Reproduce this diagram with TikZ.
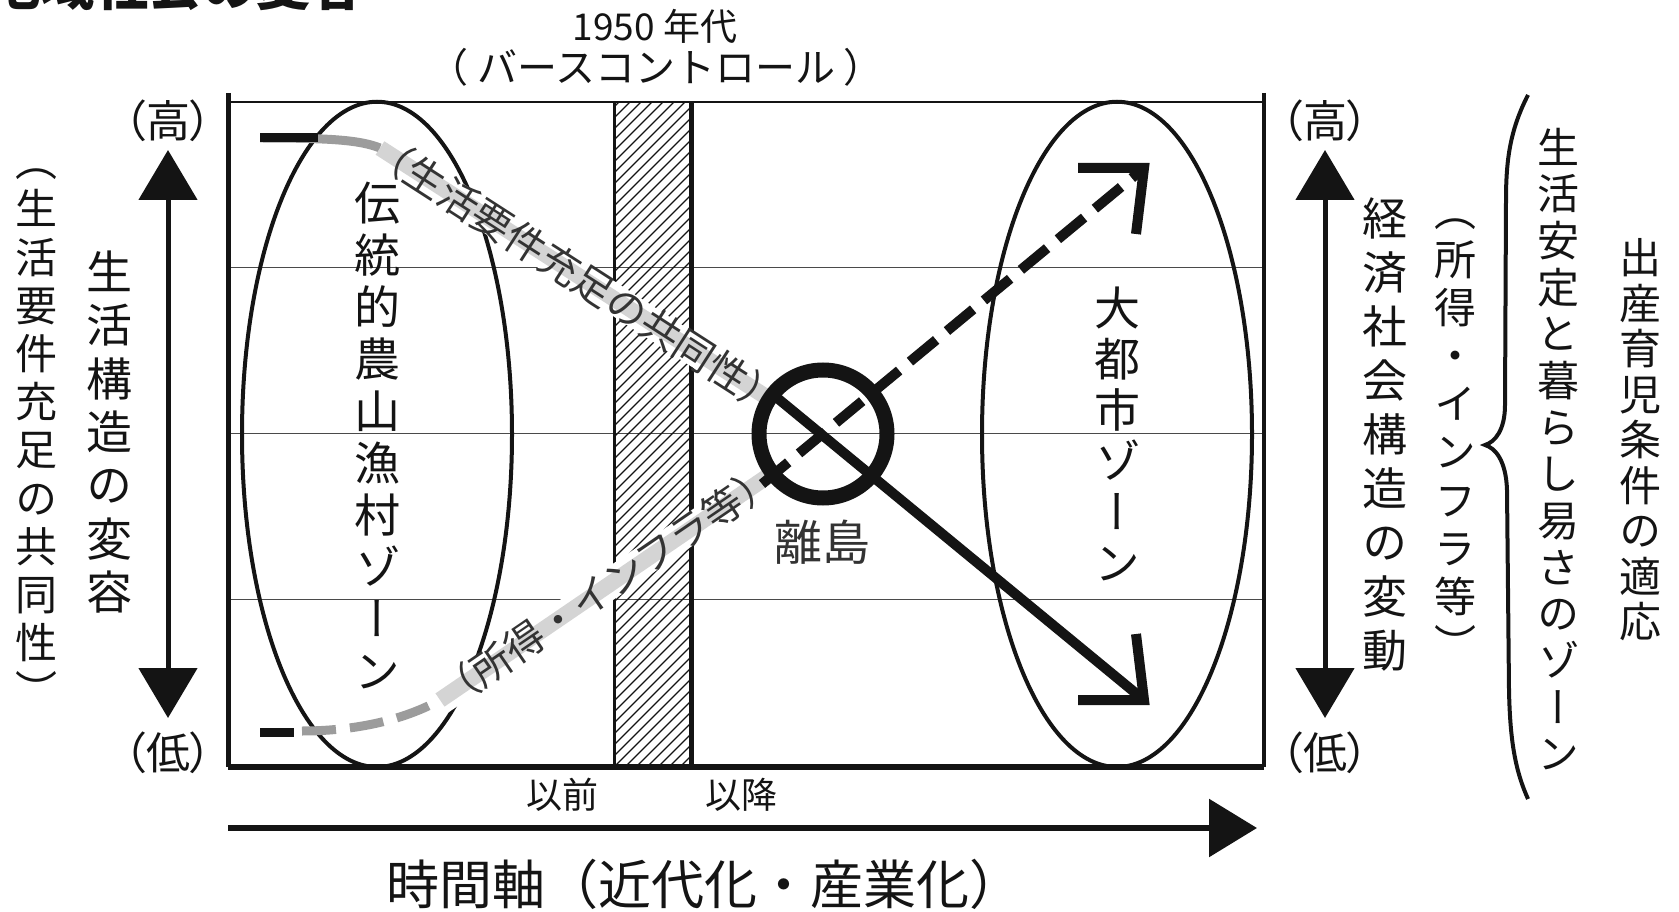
\documentclass[tikz,border=0pt]{standalone}
\usepackage{fontspec}
\setmainfont{Noto Sans CJK JP}
\newfontfamily\tatefont[RawFeature=+vert]{Noto Sans CJK JP}
\newfontfamily\paltfont[RawFeature=+palt]{Noto Sans CJK JP}
\usepackage{tikz}
\usetikzlibrary{arrows.meta}
\definecolor{ink}{HTML}{141414}
\definecolor{grid}{HTML}{4A4A4A}
\definecolor{band}{HTML}{D4D4D4}
\definecolor{trail}{HTML}{9C9C9C}
\definecolor{soft}{HTML}{333333}
\tikzset{
  frame/.style={draw=ink, line width=2pt},
  gridline/.style={draw=grid, line width=1.4pt},
  zone/.style={draw=ink, line width=4pt},
  hatchline/.style={draw=ink, line width=1.2pt},
  trail/.style={draw=trail, line width=9pt},
  traildash/.style={draw=trail, line width=9pt, dash pattern=on 34pt off 14pt},
  stub/.style={draw=ink, line width=9pt},
  bandhalo/.style={draw=white, line width=30pt},
  bandfill/.style={draw=band, line width=16pt},
  mainline/.style={draw=ink, line width=10pt},
  dashline/.style={draw=ink, line width=10pt, dash pattern=on 34pt off 14pt},
  tipline/.style={draw=ink, line width=10pt, miter limit=10},
  ringline/.style={draw=ink, line width=15pt},
  axisarrow/.style={draw=ink, line width=5pt,
    {Triangle[length=50pt,width=58pt]}-{Triangle[length=50pt,width=58pt]}},
  timearrow/.style={draw=ink, line width=6pt, -{Triangle[length=48pt,width=57pt]}},
  lbl/.style={text=ink, inner sep=0pt},
  tate/.style={text=ink, inner sep=0pt, align=center},
  bandlbl/.style={text=soft, inner sep=0pt, sloped, font=\fontsize{40}{40}\selectfont}
}
% one character per line, for the upright columns
\makeatletter
\newcommand\tate[1]{\tate@step#1\@nil}
\def\tate@step#1#2\@nil{#1\ifx\relax#2\relax\expandafter\@gobble\else\expandafter\@firstofone\fi{\\\tate@step#2\@nil}}
\makeatother
\newcommand\tsize[2]{\tatefont\fontsize{#1}{#2}\selectfont}

\begin{document}
\begin{tikzpicture}[x=1pt,y=-1pt]
  \useasboundingbox (0,0) rectangle (1679,912);

  % frame of the chart
  \coordinate (TL) at (228,101.7);
  \coordinate (TR) at (1264,101.7);
  \coordinate (BL) at (228,767);
  \coordinate (BR) at (1264,767);
  \foreach \y in {267.7,433.7,599.7}
    \draw[gridline] (228,\y) -- (1264,\y);
  \draw[frame] (TL) -- (TR);
  \draw[frame, line width=5pt] (228,93) -- (BL);
  \draw[frame, line width=3.5pt] (1264,93) -- (BR);
  \draw[frame, line width=6pt] (BL) -- (BR);

  % 1950s bar
  \begin{scope}
    \clip (614,101.7) rectangle (691,767);
    \foreach \k in {-62,...,8}
      \draw[hatchline] (614+\k*11,767) -- ++(700,-700);
  \end{scope}
  \draw[frame, line width=3pt] (614,101.7) -- (614,767);
  \draw[frame, line width=5pt] (691,101.7) -- (691,767);

  % zones
  \draw[zone] (377,434.35) ellipse [x radius=135, y radius=332.6];
  \draw[zone] (1117,434.35) ellipse [x radius=135, y radius=332.6];
  \node[tate, font=\tsize{46}{52}] (rural) at (377,435) {\tate{伝統的農山漁村ゾーン}};
  \node[tate, font=\tsize{46}{51}] (city) at (1117,434) {\tate{大都市ゾーン}};

  % upper route
  \coordinate (u0) at (260,138);
  \coordinate (ua) at (380,148);
  \coordinate (ub) at (774,402);
  \draw[bandhalo] (ua) -- (ub);
  \draw[trail] (u0) .. controls (330,138) and (360,140) .. (ua);
  \draw[stub] (u0) -- (318,138);
  \draw[bandfill] (ua) -- (ub);
  \path (ua) -- node[bandlbl] (life) {（生活要件充足の共同性）} (ub);

  % lower route
  \coordinate (l0) at (260,732);
  \coordinate (la) at (440,700);
  \coordinate (lb) at (774,472);
  \draw[bandhalo] (la) -- (lb);
  \draw[traildash] (302,731) .. controls (350,731) and (400,722) .. (la);
  \draw[stub] (l0) -- (294,732);
  \draw[bandfill] (la) -- (lb);
  \path (la) -- node[bandlbl] (income) {（所得・インフラ等）} (lb);

  % island and the two arrows
  \coordinate (ring) at (823,434);
  \coordinate (dn) at (1144,700);
  \coordinate (up) at (1144,168);
  \draw[mainline] (776,397) -- (dn);
  \draw[tipline] (1078,700) -- (dn) -- (1136,634);
  \draw[dashline] (762,484) -- (up);
  \draw[tipline] (1078,168) -- (up) -- (1136,234);
  \draw[ringline] (ring) circle [radius=64];
  \node[lbl, text=soft, font=\fontsize{48}{48}\selectfont] (isle) at (822,542) {離島};

  % left axis
  \node[lbl, font=\paltfont\fontsize{44}{44}\selectfont] (hiL) at (168,121) {（高）};
  \node[lbl, font=\paltfont\fontsize{44}{44}\selectfont] (loL) at (168,753) {（低）};
  \coordinate (aL1) at (168,150);
  \coordinate (aL2) at (168,718);
  \draw[axisarrow] (aL1) -- (aL2);
  \node[tate, font=\tsize{46}{53.3}] (lifeaxis) at (109,432) {\tate{生活構造の変容}};
  \node[tate, font=\tsize{42}{48.2}] (lifesub) at (37,438) {\tate{（生活要件充足の共同性）}};

  % right axis
  \node[lbl, font=\paltfont\fontsize{44}{44}\selectfont] (hiR) at (1325,121) {（高）};
  \node[lbl, font=\paltfont\fontsize{44}{44}\selectfont] (loR) at (1325,753) {（低）};
  \coordinate (aR1) at (1325,150);
  \coordinate (aR2) at (1325,718);
  \draw[axisarrow] (aR1) -- (aR2);
  \node[tate, font=\tsize{45}{54}] (econ) at (1385,435) {\tate{経済社会構造の変動}};
  \node[tate, font=\tsize{42}{48.2}] (econsub) at (1455,440) {\tate{（所得・インフラ等）}};

  % brace and the outer columns
  \draw[draw=ink, line width=4pt] (1528,95) .. controls (1510,130) and (1506,160) .. (1506,200)
    -- (1505,405) .. controls (1505,430) and (1495,442) .. (1485,445)
    .. controls (1495,448) and (1506,460) .. (1507,490)
    -- (1509,690) .. controls (1510,740) and (1515,770) .. (1528,799);
  \node[tate, font=\tsize{42}{46.65}] (easy) at (1558,449) {\tate{生活安定と暮らし易さのゾーン}};
  \node[tate, font=\tsize{42}{45.5}] (birth) at (1640,440) {\tate{出産育児条件の適応}};

  % top and bottom texts
  \node[lbl, anchor=base west, font=\fontsize{54}{54}\selectfont\bfseries] (title) at (-14,6) {地域社会の変容};
  \node[lbl, font=\fontsize{37}{37}\selectfont] (era) at (655,26) {1950 年代};
  \node[lbl, font=\fontsize{40}{40}\selectfont] (bc) at (656,67) {（ バースコントロール ）};
  \node[lbl, font=\fontsize{36}{36}\selectfont] (before) at (562,795) {以前};
  \node[lbl, font=\fontsize{36}{36}\selectfont] (after) at (741,795) {以降};
  \coordinate (t1) at (228,828);
  \coordinate (t2) at (1257,828);
  \draw[timearrow] (t1) -- (t2);
  \node[lbl, font=\fontsize{53}{53}\selectfont] (timeaxis) at (704,884) {時間軸（近代化・産業化）};
\end{tikzpicture}
\end{document}
